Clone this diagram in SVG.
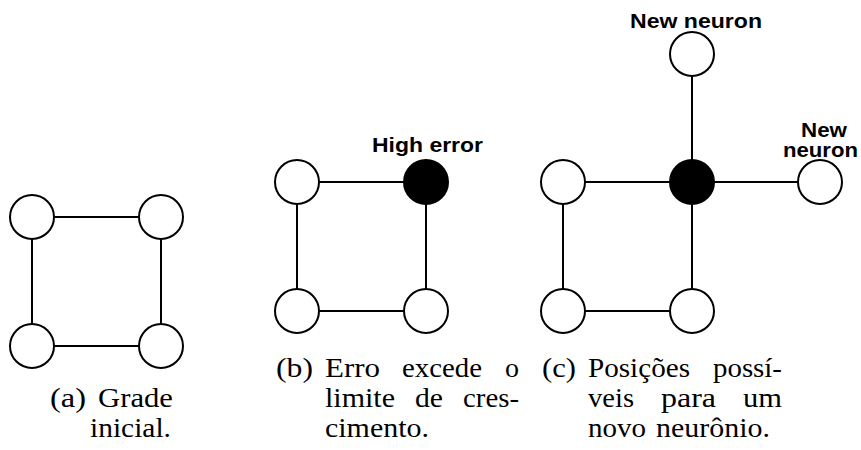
<svg xmlns="http://www.w3.org/2000/svg" width="861" height="450" viewBox="0 0 861 450">
  <style>
    .edge { stroke: #000; stroke-width: 2; fill: none; }
    .unit { fill: #fff; stroke: #000; stroke-width: 2; }
    .winner { fill: #000; stroke: #000; stroke-width: 2; }
    .tag { font-family: "Liberation Sans", Arial, sans-serif; font-weight: bold; font-size: 20px; fill: #000; }
    .cap { font-family: "Liberation Serif", "Times New Roman", serif; font-size: 27px; fill: #000; }
  </style>
  <rect width="861" height="450" fill="#fff"/>

  <!-- grid connections -->
  <g id="connectors">
    <!-- (a) -->
    <line class="edge" x1="32" y1="217" x2="161" y2="217"/>
    <line class="edge" x1="32" y1="346" x2="161" y2="346"/>
    <line class="edge" x1="32" y1="217" x2="32" y2="346"/>
    <line class="edge" x1="161" y1="217" x2="161" y2="346"/>
    <!-- (b) -->
    <line class="edge" x1="297" y1="182" x2="426" y2="182"/>
    <line class="edge" x1="297" y1="311" x2="426" y2="311"/>
    <line class="edge" x1="297" y1="182" x2="297" y2="311"/>
    <line class="edge" x1="426" y1="182" x2="426" y2="311"/>
    <!-- (c) -->
    <line class="edge" x1="563" y1="182" x2="692" y2="182"/>
    <line class="edge" x1="563" y1="311" x2="692" y2="311"/>
    <line class="edge" x1="563" y1="182" x2="563" y2="311"/>
    <line class="edge" x1="692" y1="182" x2="692" y2="311"/>
    <line class="edge" x1="692" y1="54" x2="692" y2="182"/>
    <line class="edge" x1="692" y1="182" x2="820" y2="182"/>
  </g>

  <!-- (a) initial grid -->
  <g id="a-n1"><circle class="unit" cx="32" cy="217" r="22"/></g>
  <g id="a-n2"><circle class="unit" cx="161" cy="217" r="22"/></g>
  <g id="a-n3"><circle class="unit" cx="32" cy="346" r="22"/></g>
  <g id="a-n4"><circle class="unit" cx="161" cy="346" r="22"/></g>

  <!-- (b) error threshold exceeded -->
  <g id="b-n1"><circle class="unit" cx="297" cy="182" r="22"/></g>
  <g id="b-n2">
    <circle class="winner" cx="426" cy="182" r="22"/>
    <text class="tag" x="372" y="152" textLength="111" lengthAdjust="spacingAndGlyphs" style="font-size:21px">High error</text>
  </g>
  <g id="b-n3"><circle class="unit" cx="297" cy="311" r="22"/></g>
  <g id="b-n4"><circle class="unit" cx="426" cy="311" r="22"/></g>

  <!-- (c) candidate positions for the new unit -->
  <g id="c-n1"><circle class="unit" cx="563" cy="182" r="22"/></g>
  <g id="c-n2"><circle class="winner" cx="692" cy="182" r="22"/></g>
  <g id="c-n3"><circle class="unit" cx="563" cy="311" r="22"/></g>
  <g id="c-n4"><circle class="unit" cx="692" cy="311" r="22"/></g>
  <g id="c-new-top">
    <circle class="unit" cx="692" cy="54" r="22"/>
    <text class="tag" x="630" y="28" textLength="132" lengthAdjust="spacingAndGlyphs">New neuron</text>
  </g>
  <g id="c-new-right">
    <circle class="unit" cx="820" cy="182" r="22"/>
    <text class="tag" x="801" y="137" textLength="46" lengthAdjust="spacingAndGlyphs">New</text>
    <text class="tag" x="783" y="157" textLength="75" lengthAdjust="spacingAndGlyphs">neuron</text>
  </g>

  <!-- captions -->
  <g id="caption-a" class="cap">
    <text x="50" y="407" textLength="36" lengthAdjust="spacingAndGlyphs">(a)</text>
    <text x="98" y="407" textLength="75" lengthAdjust="spacingAndGlyphs">Grade</text>
    <text x="90" y="437" textLength="81" lengthAdjust="spacingAndGlyphs">inicial.</text>
  </g>
  <g id="caption-b" class="cap">
    <text x="276" y="377" textLength="37" lengthAdjust="spacingAndGlyphs">(b)</text>
    <text x="325" y="377" textLength="55" lengthAdjust="spacingAndGlyphs">Erro</text>
    <text x="402" y="377" textLength="80" lengthAdjust="spacingAndGlyphs">excede</text>
    <text x="505" y="377" textLength="14" lengthAdjust="spacingAndGlyphs">o</text>
    <text x="325" y="407" textLength="70" lengthAdjust="spacingAndGlyphs">limite</text>
    <text x="415" y="407" textLength="28" lengthAdjust="spacingAndGlyphs">de</text>
    <text x="463" y="407" textLength="56" lengthAdjust="spacingAndGlyphs">cres-</text>
    <text x="325" y="437" textLength="104" lengthAdjust="spacingAndGlyphs">cimento.</text>
  </g>
  <g id="caption-c" class="cap">
    <text x="542" y="377" textLength="34" lengthAdjust="spacingAndGlyphs">(c)</text>
    <text x="588" y="377" textLength="102" lengthAdjust="spacingAndGlyphs">Posições</text>
    <text x="713" y="377" textLength="69" lengthAdjust="spacingAndGlyphs">possí-</text>
    <text x="588" y="407" textLength="46" lengthAdjust="spacingAndGlyphs">veis</text>
    <text x="661" y="407" textLength="55" lengthAdjust="spacingAndGlyphs">para</text>
    <text x="743" y="407" textLength="39" lengthAdjust="spacingAndGlyphs">um</text>
    <text x="588" y="437" textLength="58" lengthAdjust="spacingAndGlyphs">novo</text>
    <text x="656" y="437" textLength="114" lengthAdjust="spacingAndGlyphs">neurônio.</text>
  </g>
</svg>
